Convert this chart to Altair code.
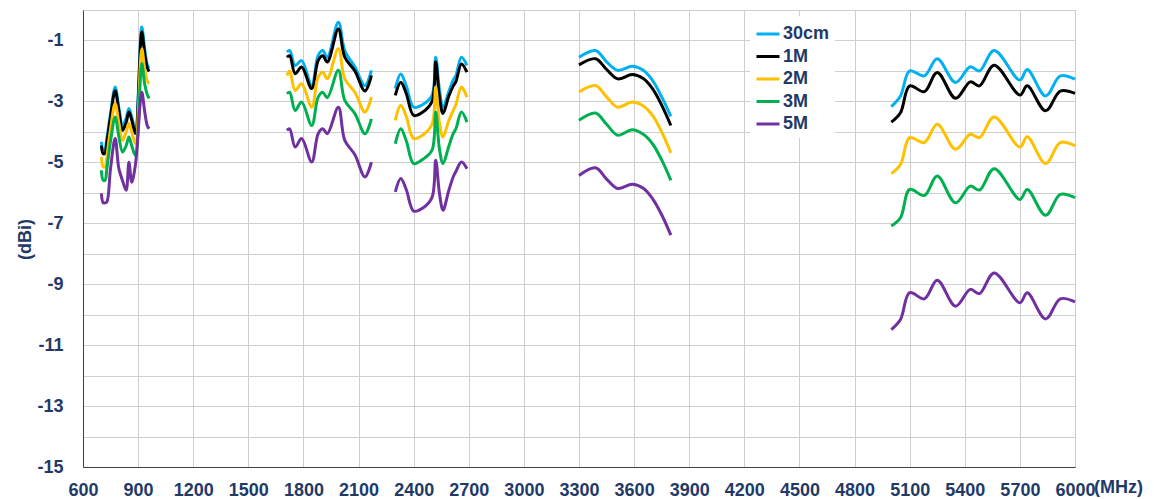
import altair as alt
import pandas as pd

series = ["30cm", "1M", "2M", "3M", "5M"]
colors = ["#00B0F0", "#000000", "#FFC000", "#00B050", "#7030A0"]

x_ticks = [600, 900, 1200, 1500, 1800, 2100, 2400, 2700, 3000, 3300, 3600,
           3900, 4200, 4500, 4800, 5100, 5400, 5700, 6000]
y_ticks = [-15, -14, -13, -12, -11, -10, -9, -8, -7, -6, -5, -4, -3, -2, -1, 0]

# Band 1 (700-960 MHz)
b1_freq = [700, 710, 720, 730, 750, 775, 795, 815, 835, 850, 865, 885, 920, 935, 950, 960]
b1_30cm = [-4.33, -4.6, -4.55, -4.2, -3.4, -2.53, -3.2, -3.8, -3.55, -3.23, -3.5, -3.95, -0.56, -1.25, -1.8, -1.92]
b1_1m = [-4.45, -4.72, -4.7, -4.35, -3.5, -2.65, -3.3, -3.95, -3.7, -3.35, -3.6, -4.05, -0.72, -1.4, -1.9, -2.02]
b1_2m = [-4.83, -5.15, -5.15, -4.8, -3.9, -3.07, -3.7, -4.28, -4.0, -3.72, -4.0, -4.38, -1.27, -1.9, -2.33, -2.42]
b1_3m = [-5.26, -5.59, -5.59, -5.2, -4.3, -3.51, -4.15, -4.66, -4.45, -4.17, -4.45, -4.77, -1.76, -2.4, -2.78, -2.9]
b1_5m = [-6.02, -6.33, -6.33, -6.3, -5.2, -4.22, -5.2, -5.6, -5.92, -5.0, -5.65, -5.1, -2.7, -3.3, -3.8, -3.9]

# Band 2 (1710-2170 MHz)
b2_freq = [1710, 1725, 1755, 1790, 1845, 1880, 1905, 1930, 1990, 2025, 2080, 2135, 2170]
b2_30cm = [-1.38, -1.33, -1.82, -1.66, -2.48, -1.49, -1.33, -1.55, -0.4, -1.33, -1.87, -2.48, -1.98]
b2_1m = [-1.55, -1.5, -2.09, -1.87, -2.58, -1.66, -1.5, -1.71, -0.62, -1.55, -2.0, -2.66, -2.15]
b2_2m = [-2.15, -2.0, -2.64, -2.42, -3.19, -2.2, -2.04, -2.26, -1.27, -2.26, -2.7, -3.35, -2.86]
b2_3m = [-2.75, -2.7, -3.3, -3.02, -3.79, -2.86, -2.7, -2.88, -1.98, -2.97, -3.4, -4.06, -3.57]
b2_5m = [-3.95, -3.9, -4.5, -4.22, -4.99, -4.06, -3.9, -4.06, -3.19, -4.28, -4.75, -5.48, -4.99]

# Band 3 (2300-2690 MHz)
b3_freq = [2300, 2330, 2360, 2400, 2450, 2500, 2520, 2540, 2560, 2590, 2615, 2630, 2660, 2690]
b3_30cm = [-2.58, -2.1, -2.5, -3.19, -3.1, -2.8, -1.55, -2.6, -3.19, -2.7, -2.3, -2.15, -1.55, -1.82]
b3_1m = [-2.8, -2.37, -2.75, -3.46, -3.35, -3.0, -1.7, -2.85, -3.4, -2.85, -2.5, -2.35, -1.77, -2.04]
b3_2m = [-3.62, -3.13, -3.5, -4.22, -4.1, -3.75, -2.53, -3.7, -4.17, -3.65, -3.3, -3.1, -2.53, -2.86]
b3_3m = [-4.39, -3.9, -4.3, -5.04, -4.9, -4.6, -3.35, -4.55, -5.04, -4.5, -4.06, -3.9, -3.35, -3.68]
b3_5m = [-5.97, -5.53, -5.9, -6.6, -6.5, -6.15, -4.93, -6.0, -6.57, -5.95, -5.48, -5.3, -4.99, -5.21]

# Band 4 (3300-3800 MHz)
b4_freq = [3300, 3390, 3450, 3510, 3590, 3650, 3700, 3750, 3800]
b4_30cm = [-1.55, -1.33, -1.7, -1.98, -1.85, -1.98, -2.31, -2.85, -3.49]
b4_1m = [-1.8, -1.6, -1.95, -2.26, -2.12, -2.25, -2.58, -3.12, -3.79]
b4_2m = [-2.69, -2.48, -2.85, -3.19, -3.02, -3.15, -3.46, -4.0, -4.69]
b4_3m = [-3.62, -3.38, -3.75, -4.11, -3.93, -4.08, -4.39, -4.92, -5.59]
b4_5m = [-5.43, -5.18, -5.55, -5.86, -5.72, -5.85, -6.19, -6.72, -7.39]

# Band 5 (5000-6000 MHz)
b5_freq = [5000, 5050, 5100, 5180, 5250, 5350, 5430, 5480, 5560, 5700, 5740, 5840, 5920, 6000]
b5_30cm = [-3.17, -2.82, -2.0, -2.16, -1.6, -2.38, -1.86, -2.0, -1.33, -2.3, -1.95, -2.82, -2.16, -2.27]
b5_1m = [-3.68, -3.37, -2.49, -2.68, -2.05, -2.9, -2.36, -2.49, -1.81, -2.79, -2.49, -3.31, -2.66, -2.74]
b5_2m = [-5.37, -5.07, -4.19, -4.35, -3.75, -4.57, -4.08, -4.19, -3.51, -4.5, -4.16, -5.04, -4.35, -4.46]
b5_3m = [-7.09, -6.82, -5.89, -6.09, -5.45, -6.33, -5.78, -5.91, -5.21, -6.22, -5.89, -6.74, -6.05, -6.16]
b5_5m = [-10.49, -10.16, -9.28, -9.48, -8.87, -9.72, -9.17, -9.31, -8.63, -9.61, -9.28, -10.14, -9.48, -9.58]

bands = [
    ("b1", b1_freq, [b1_30cm, b1_1m, b1_2m, b1_3m, b1_5m]),
    ("b2", b2_freq, [b2_30cm, b2_1m, b2_2m, b2_3m, b2_5m]),
    ("b3", b3_freq, [b3_30cm, b3_1m, b3_2m, b3_3m, b3_5m]),
    ("b4", b4_freq, [b4_30cm, b4_1m, b4_2m, b4_3m, b4_5m]),
    ("b5", b5_freq, [b5_30cm, b5_1m, b5_2m, b5_3m, b5_5m]),
]

rows = []
for si, s in enumerate(series):
    for bname, freqs, vals in bands:
        for f, v in zip(freqs, vals[si]):
            rows.append({"series": s, "band": bname, "freq": f, "gain": v})
df = pd.DataFrame(rows)

NAVY = "#1F3A68"
FONT = "Liberation Sans"

chart = alt.Chart(df).mark_line(
    interpolate="catmull-rom", strokeWidth=3
).encode(
    x=alt.X("freq:Q",
            scale=alt.Scale(domain=[600, 6000], nice=False, zero=False),
            axis=alt.Axis(values=x_ticks, format="d", title="(MHz)", grid=True, ticks=False,
                          labelOverlap=False, labelFlush=False,
                          labelPadding=28, labelBaseline="alphabetic",
                          labelFont=FONT, labelFontSize=18, labelFontWeight="bold",
                          labelColor=NAVY,
                          titleFont=FONT, titleFontSize=18, titleFontWeight="bold",
                          titleColor=NAVY,
                          titleX=1035, titleY=25, titleAlign="center",
                          titleBaseline="alphabetic")),
    y=alt.Y("gain:Q",
            scale=alt.Scale(domain=[-15, 0], nice=False, zero=False),
            axis=alt.Axis(values=y_ticks, title="(dBi)", grid=True, ticks=False,
                          labelPadding=20, labelOverlap=False, labelFlush=False,
                          labelExpr="datum.value % 2 != 0 ? '' + datum.value : ''",
                          labelFont=FONT, labelFontSize=18, labelFontWeight="bold",
                          labelColor=NAVY,
                          titleFont=FONT, titleFontSize=18, titleFontWeight="bold",
                          titleColor=NAVY,
                          titleX=-58, titleY=229, titleAngle=-90,
                          titleBaseline="middle", titleAlign="center")),
    color=alt.Color("series:N",
                    scale=alt.Scale(domain=series, range=colors),
                    legend=alt.Legend(title=None, orient="none", legendX=667, legendY=6,
                                      symbolType="stroke", symbolSize=529,
                                      symbolStrokeWidth=3, labelOffset=2,
                                      rowPadding=0.5, padding=5, fillColor="white",
                                      labelFont=FONT, labelFontSize=18,
                                      labelFontWeight="bold", labelColor=NAVY)),
    detail="band:N",
).properties(
    width=992, height=457,
    background="white",
    autosize=alt.AutoSizeParams(type="none"),
    padding={"left": 75, "top": 2, "right": 71, "bottom": 33},
).configure_view(
    stroke="#A6A6A6", strokeWidth=1
).configure_axis(
    gridColor="#CFCFCF", gridWidth=1,
    domainColor="#404040", domainWidth=1,
)

chart.save("out.html", embed_options={"renderer": "svg", "actions": False})
